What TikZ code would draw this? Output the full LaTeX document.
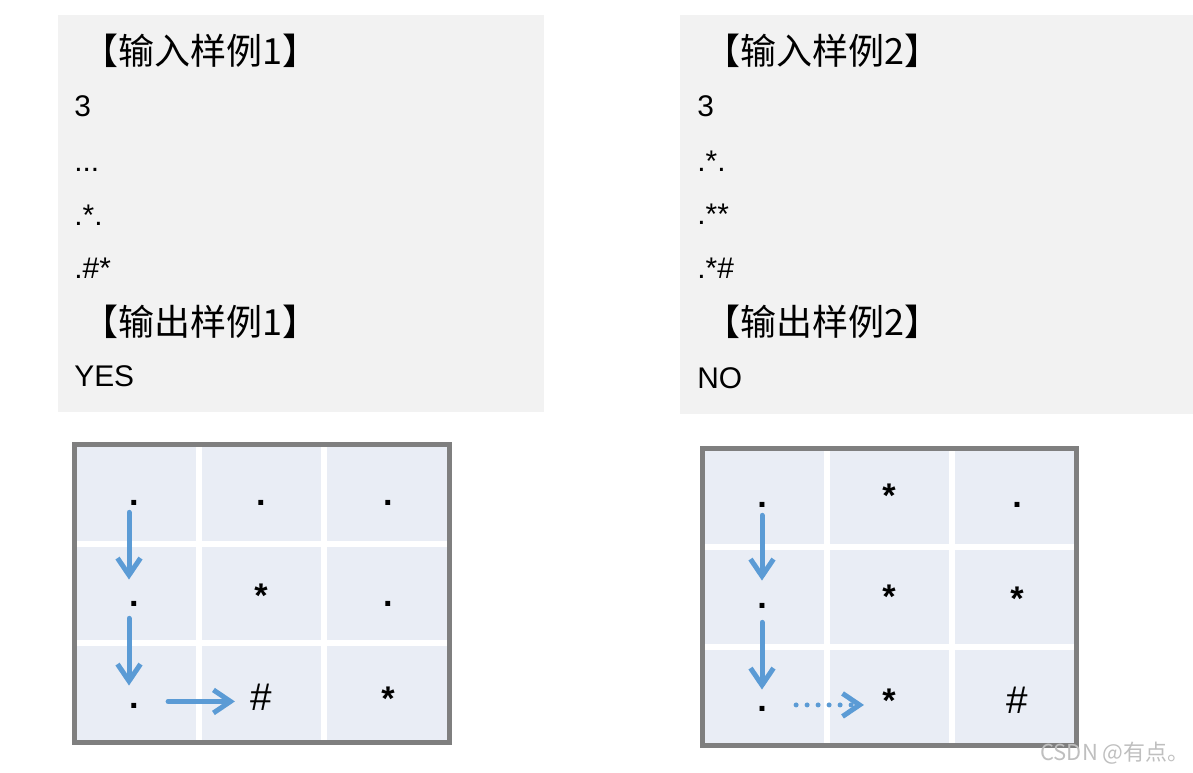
\documentclass[tikz,border=0pt]{standalone}
\usepackage{fontspec}
\setmainfont{Noto Sans CJK SC}
\newfontfamily\gridfont{Liberation Sans}
\usepackage{tikz}
\usetikzlibrary{arrows.meta}
\definecolor{sfondo}{HTML}{F2F2F2}
\definecolor{cella}{HTML}{E9EDF5}
\definecolor{bordo}{HTML}{7F7F7F}
\definecolor{blu}{HTML}{5B9BD5}
\tikzstyle{riquadro} = [fill=sfondo]
\tikzstyle{titolo} = [anchor=base west, inner sep=0pt, font=\fontsize{20.5}{24}\selectfont]
\tikzstyle{riga} = [anchor=base west, inner sep=0pt, font=\gridfont\fontsize{17}{20}\selectfont]
\tikzstyle{simbolo} = [anchor=base, inner sep=0pt, font=\gridfont\bfseries\fontsize{19.5}{22}\selectfont]
\tikzstyle{stella} = [simbolo]
\tikzstyle{muro} = [simbolo, font=\gridfont\fontsize{22}{24}\selectfont]
\tikzstyle{divisore} = [white, line width=0.12cm]
\tikzstyle{cornice} = [draw=bordo, line width=0.1cm]
\tikzstyle{freccia} = [blu, line width=0.1cm, line cap=round, -{Straight Barb[length=0.34cm,width=0.46cm]}]
\tikzstyle{tentativo} = [freccia, dash pattern=on 0pt off 0.22cm]

\begin{document}
\begin{tikzpicture}[x=0.02cm, y=-0.02cm]
				\useasboundingbox (0,0) rectangle (1193,773);
				\fill[riquadro] (58,15) rectangle (544,412);
				\fill[riquadro] (680,15) rectangle (1193,414);
				\node (in1) at (82,65) [titolo] {【输入样例1】};
				\node (n1) at (74,117) [riga] {3};
				\node (r11) at (74,172) [riga] {...};
				\node (r12) at (74,226) [riga] {.*.};
				\node (r13) at (74,279) [riga] {.\#*};
				\node (out1) at (82,336) [titolo] {【输出样例1】};
				\node (res1) at (74,386) [riga] {YES};
				\node (in2) at (704,65) [titolo] {【输入样例2】};
				\node (n2) at (697,117) [riga] {3};
				\node (r21) at (697,172) [riga] {.*.};
				\node (r22) at (697,225) [riga] {.**};
				\node (r23) at (697,279) [riga] {.*\#};
				\node (out2) at (704,336) [titolo] {【输出样例2】};
				\node (res2) at (697,388) [riga] {NO};
				\fill[cella] (74.5,444.5) rectangle (449,742);
				\draw[divisore] (199,444.5) -- (199,742);
				\draw[divisore] (324,444.5) -- (324,742);
				\draw[divisore] (74.5,544) -- (449,544);
				\draw[divisore] (74.5,643) -- (449,643);
				\draw[cornice] (74.5,444.5) rectangle (449,742);
				\node (a11) at (134,505) [simbolo] {.};
				\node (a12) at (261,505) [simbolo] {.};
				\node (a13) at (388,505) [simbolo] {.};
				\node (a21) at (134,606) [simbolo] {.};
				\node (a22) at (261,607) [stella] {*};
				\node (a23) at (388,606) [simbolo] {.};
				\node (a31) at (134,708) [simbolo] {.};
				\node (a32) at (261,710) [muro] {\#};
				\node (a33) at (388,710) [stella] {*};
				\draw[freccia, shorten <=0.14cm, shorten >=0.42cm] ([xshift=-0.1cm]a11.south) -- ([xshift=-0.1cm]a21.north);
				\draw[freccia, shorten <=0.24cm, shorten >=0.34cm] ([xshift=-0.1cm]a21.south) -- ([xshift=-0.1cm]a31.north);
				\draw[freccia, shorten <=0.58cm, shorten >=0.3cm] ([yshift=0.08cm]a31.east) -- ([yshift=0.08cm]a31.east -| a32.west);
				\fill[cella] (702,448) rectangle (1076.5,745);
				\draw[divisore] (827,448) -- (827,745);
				\draw[divisore] (952,448) -- (952,745);
				\draw[divisore] (702,547) -- (1076.5,547);
				\draw[divisore] (702,646.5) -- (1076.5,646.5);
				\draw[cornice] (702,448) rectangle (1076.5,745);
				\node (b11) at (762,507) [simbolo] {.};
				\node (b12) at (889,507) [stella] {*};
				\node (b13) at (1017,507) [simbolo] {.};
				\node (b21) at (762,608) [simbolo] {.};
				\node (b22) at (889,608) [stella] {*};
				\node (b23) at (1017,610) [stella] {*};
				\node (b31) at (762,711) [simbolo] {.};
				\node (b32) at (889,712) [stella] {*};
				\node (b33) at (1017,713) [muro] {\#};
				\draw[freccia, shorten <=0.16cm, shorten >=0.44cm] (b11.south) -- (b21.north);
				\draw[freccia, shorten <=0.28cm, shorten >=0.32cm] (b21.south) -- (b31.north);
				\draw[tentativo, shorten <=0.58cm, shorten >=0.36cm] ([yshift=0.07cm]b31.east) -- ([yshift=0.07cm]b31.east -| b32.west);
				\node (marchio) at (1040,760) [anchor=base west, inner sep=0pt, text=black!25, font=\fontsize{12.5}{15}\selectfont] {CSDN @有点。};
\end{tikzpicture}
\end{document}
